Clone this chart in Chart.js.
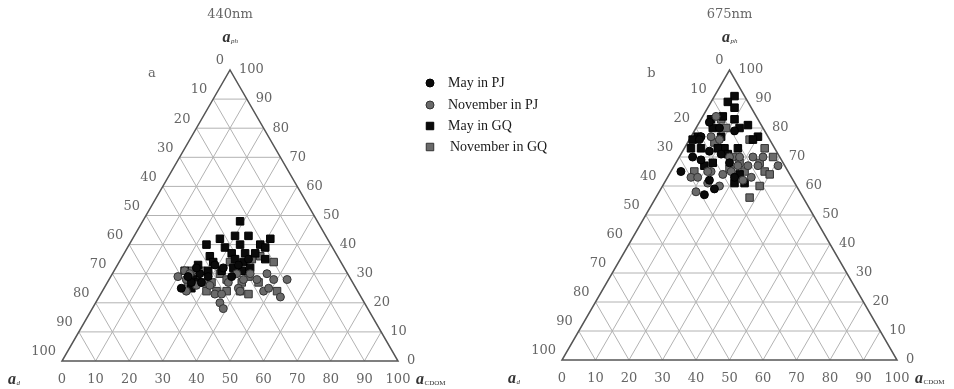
<!DOCTYPE html>
<html>
<head>
<meta charset="utf-8">
<script src="https://cdn.jsdelivr.net/npm/chart.js@4.4.1/dist/chart.umd.min.js"></script>
<style>
body { margin: 0; background: #fff; }
#wrap { position: relative; width: 954px; height: 389px; }
canvas { position: absolute; top: 0; }
</style>
</head>
<body>
<div id="wrap">
    <canvas id="c440" width="600" height="389" style="left:0"></canvas>
    <canvas id="c675" width="477" height="389" style="left:477px"></canvas>
</div>
<script>
// tick labels on all three sides
const tickLabels = [0, 10, 20, 30, 40, 50, 60, 70, 80, 90, 100]
const seriesNames = ['May in PJ', 'November in PJ', 'May in GQ', 'November in GQ']

// 440 nm, values in % (a_d = 100 - a_ph - a_CDOM)
const mayPJ440Ph = [30, 27, 25, 27, 32, 33, 32, 29, 33, 29, 29, 35]
const mayPJ440Cdom = [26, 25, 23, 28, 24, 29, 32, 29, 36, 23, 36, 38]
const novPJ440Ph = [29, 31, 28, 24, 26, 26, 23, 23, 20, 18, 27, 25, 24, 28, 28, 30, 28, 28, 24, 25, 22, 30, 30, 30]
const novPJ440Cdom = [20, 21, 23, 25, 27, 31, 34, 36, 37, 39, 36, 40, 41, 40, 44, 46, 49, 53, 48, 49, 54, 37, 41, 23]
const mayGQ440Ph = [48, 40, 42, 43, 43, 42, 39, 40, 40, 39, 36, 37, 37, 37, 34, 35, 34, 33, 31, 31, 32, 32, 35, 28, 27, 25, 31, 31]
const mayGQ440Cdom = [29, 23, 26, 30, 34, 41, 29, 33, 39, 41, 26, 32, 36, 39, 28, 34, 37, 24, 28, 32, 35, 40, 43, 25, 27, 26, 38, 21]
const novGQ440Ph = [36, 34, 35, 34, 31, 30, 27, 29, 27, 27, 27, 24, 24, 24, 23, 24, 24, 28, 27, 31, 28]
const novGQ440Cdom = [41, 46, 39, 33, 26, 32, 40, 41, 45, 29, 31, 37, 31, 34, 44, 52, 41, 26, 24, 23, 35]

// 675 nm
const mayPJ675Ph = [82, 80, 79, 77, 72, 70, 69, 65, 62, 59, 57, 71, 68, 63, 76]
const mayPJ675Cdom = [3, 7, 12, 3, 8, 4, 7, 3, 13, 16, 14, 12, 16, 20, 3]
const novPJ675Ph = [84, 77, 76, 70, 70, 70, 70, 67, 67, 67, 67, 64, 65, 65, 63, 63, 61, 60, 58, 62, 63, 65]
const novPJ675Cdom = [4, 6, 9, 15, 18, 22, 25, 31, 22, 25, 19, 16, 12, 11, 7, 9, 13, 17, 11, 23, 25, 18]
const mayGQ675Ph = [91, 89, 87, 84, 83, 81, 80, 77, 76, 73, 73, 83, 80, 77, 76, 73, 73, 73, 71, 67, 68, 61, 61, 64, 77]
const mayGQ675Cdom = [6, 5, 8, 6, 10, 15, 13, 20, 19, 16, 12, 3, 5, 2, 1, 2, 5, 10, 14, 9, 11, 21, 24, 21, 9]
const novGQ675Ph = [83, 80, 76, 73, 70, 68, 65, 64, 60, 56, 70, 73, 75, 65, 68, 66, 65]
const novGQ675Cdom = [6, 9, 18, 24, 28, 25, 28, 30, 29, 28, 16, 11, 8, 7, 19, 17, 22]

const SQ3 = Math.sqrt(3) / 2
// ternary -> cartesian: a_CDOM along the base, a_ph up to the apex
const toXY = (ph, cdom) => ph.map((p, i) => ({ x: cdom[i] + p / 2, y: p * SQ3 }))

const styles = [
    { pointStyle: 'circle', radius: 4, backgroundColor: '#0a0a0a', borderColor: '#000' },
    { pointStyle: 'circle', radius: 4, backgroundColor: '#6a6a6a', borderColor: '#333' },
    { pointStyle: 'rect', radius: 5.3, backgroundColor: '#0a0a0a', borderColor: '#000' },
    { pointStyle: 'rect', radius: 5.3, backgroundColor: '#6a6a6a', borderColor: '#333' }
]

const SERIF = '"DejaVu Serif", serif'

function drawSymbol(ctx, x, y, sub, align) {
    ctx.save()
    ctx.fillStyle = '#333'
    ctx.textBaseline = 'middle'
    ctx.font = 'bold italic 16px "Liberation Serif", serif'
    const wa = ctx.measureText('a').width
    const subFont = sub === 'CDOM' ? '7px "Liberation Serif", serif' : 'italic 7px "Liberation Serif", serif'
    ctx.font = subFont
    const ws = ctx.measureText(sub).width
    let left = x
    if (align === 'center') left = x - (wa + ws) / 2
    ctx.textAlign = 'left'
    ctx.font = 'bold italic 16px "Liberation Serif", serif'
    ctx.fillText('a', left, y)
    ctx.font = subFont
    ctx.fillText(sub, left + wa + 0.5, y + 3)
    ctx.restore()
}

const ternary = {
    id: 'ternary',
    beforeDatasetsDraw(chart) {
        const { ctx } = chart
        const { x, y } = chart.scales
        const pt = (X, Y) => [x.getPixelForValue(X), y.getPixelForValue(Y)]
        const line = (a, b) => {
            ctx.beginPath()
            ctx.moveTo(...pt(a[0], a[1]))
            ctx.lineTo(...pt(b[0], b[1]))
            ctx.stroke()
        }
        ctx.save()
        ctx.strokeStyle = '#b2b2b2'
        ctx.lineWidth = 1
        for (let k = 10; k < 100; k += 10) {
            line([k / 2, k * SQ3], [100 - k / 2, k * SQ3])
            line([k, 0], [50 + k / 2, (100 - k) * SQ3])
            line([100 - k, 0], [(100 - k) / 2, (100 - k) * SQ3])
        }
        ctx.strokeStyle = '#555'
        ctx.lineWidth = 1.5
        ctx.beginPath()
        ctx.moveTo(...pt(0, 0))
        ctx.lineTo(...pt(100, 0))
        ctx.lineTo(...pt(50, 100 * SQ3))
        ctx.closePath()
        ctx.stroke()
        ctx.restore()
    },
    afterDraw(chart, args, opts) {
        const { ctx } = chart
        const { x, y } = chart.scales
        const pt = (X, Y) => [x.getPixelForValue(X), y.getPixelForValue(Y)]
        const [ax, ay] = pt(50, 100 * SQ3)
        const [lx, ly] = pt(0, 0)
        const [rx] = pt(100, 0)
        ctx.save()
        ctx.fillStyle = '#666'
        ctx.font = '13px ' + SERIF
        ctx.textBaseline = 'middle'
        tickLabels.forEach((v) => {
            // a_d on the left edge
            let [px, py] = pt((100 - v) / 2, (100 - v) * SQ3)
            ctx.textAlign = 'right'
            ctx.fillText(String(v), px - 6, py - 9)
            // a_ph on the right edge
            ;[px, py] = pt(100 - v / 2, v * SQ3)
            ctx.textAlign = 'left'
            ctx.fillText(String(v), px + 9, py)
            // a_CDOM on the base
            ;[px, py] = pt(v, 0)
            ctx.textAlign = 'center'
            ctx.fillText(String(v), px, py + 19)
        })
        ctx.textAlign = 'center'
        ctx.fillText(opts.title, ax, 15)
        ctx.fillText(opts.letter, ax - 78, ay + 4)
        ctx.restore()

        drawSymbol(ctx, ax, ay - 32, 'ph', 'center')
        drawSymbol(ctx, lx - 54, ly + 19, 'd', 'left')
        drawSymbol(ctx, rx + 18, ly + 19, 'CDOM', 'left')

        if (opts.legend) {
            const lgx = chart.chartArea.right + 32
            const rows = [83, 105, 126, 147]
            ctx.save()
            chart.data.datasets.forEach((ds, i) => {
                ctx.fillStyle = ds.backgroundColor
                ctx.strokeStyle = ds.borderColor
                ctx.lineWidth = 1
                Chart.helpers.drawPoint(ctx, { pointStyle: ds.pointStyle, radius: ds.pointRadius, borderWidth: 1 }, lgx, rows[i])
                ctx.fillStyle = '#1a1a1a'
                ctx.font = '14px "Liberation Serif", serif'
                ctx.textAlign = 'left'
                ctx.textBaseline = 'middle'
                ctx.fillText(ds.label, lgx + (i === 3 ? 20 : 18), rows[i])
            })
            ctx.restore()
        }
    }
}

function makeChart(id, series, padding, title, letter, legend) {
    return new Chart(document.getElementById(id), {
        type: 'scatter',
        data: {
            datasets: series.map((s, i) => ({
                label: seriesNames[i],
                data: toXY(s[0], s[1]),
                pointStyle: styles[i].pointStyle,
                pointRadius: styles[i].radius,
                pointHoverRadius: styles[i].radius,
                backgroundColor: styles[i].backgroundColor,
                borderColor: styles[i].borderColor,
                borderWidth: 1
            }))
        },
        options: {
            responsive: false,
            animation: false,
            layout: { padding },
            scales: {
                x: { type: 'linear', min: 0, max: 100, display: false },
                y: { type: 'linear', min: 0, max: 100 * SQ3, display: false }
            },
            plugins: {
                legend: { display: false },
                tooltip: { enabled: false },
                ternary: { title, letter, legend }
            }
        },
        plugins: [ternary]
    })
}

makeChart('c440', [
    [mayPJ440Ph, mayPJ440Cdom],
    [novPJ440Ph, novPJ440Cdom],
    [mayGQ440Ph, mayGQ440Cdom],
    [novGQ440Ph, novGQ440Cdom]
], { left: 62, right: 202, top: 70, bottom: 28 }, '440nm', 'a', true)

makeChart('c675', [
    [mayPJ675Ph, mayPJ675Cdom],
    [novPJ675Ph, novPJ675Cdom],
    [mayGQ675Ph, mayGQ675Cdom],
    [novGQ675Ph, novGQ675Cdom]
], { left: 85, right: 57, top: 70, bottom: 29 }, '675nm', 'b', false)
</script>
</body>
</html>
